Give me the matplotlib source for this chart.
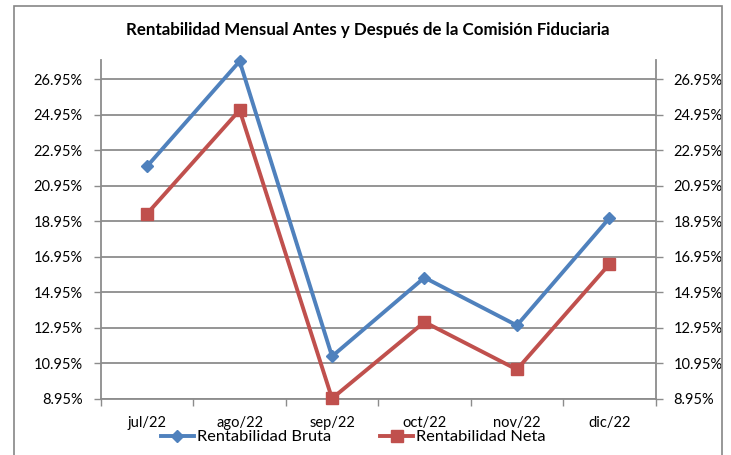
import matplotlib
matplotlib.use("Agg")
import matplotlib.pyplot as plt
from matplotlib.patches import Rectangle
from matplotlib.ticker import FixedLocator, FuncFormatter

categories = ["jul/22", "ago/22", "sep/22", "oct/22", "nov/22", "dic/22"]
bruta = [22.05, 27.95, 11.35, 15.78, 13.09, 19.12]
neta = [19.38, 25.20, 8.98, 13.28, 10.61, 16.53]
yticks = [8.95, 10.95, 12.95, 14.95, 16.95, 18.95, 20.95, 22.95, 24.95, 26.95]

plt.rcParams['font.family'] = ['Lato', 'DejaVu Sans']

W, H = 731, 455
fig = plt.figure(figsize=(W/100, H/100), dpi=100)
fig.patch.set_facecolor('white')

# chart border
fig.patches.append(Rectangle((14/W, -0.02), (722-14)/W, 1 - 6/H + 0.02,
                             transform=fig.transFigure, fill=False,
                             edgecolor='#868686', linewidth=1.2))

left, right, top, bottom = 101, 655.5, 60, 399
ax = fig.add_axes([left/W, 1-bottom/H, (right-left)/W, (bottom-top)/H])
x = list(range(len(categories)))
grid_c = '#8c8c8c'
for yv in yticks:
    ax.axhline(yv, color=grid_c, linewidth=1.3, zorder=1)

ax.plot(x, bruta, color='#4F81BD', linewidth=2.8, marker='D', markersize=6.5,
        label='Rentabilidad Bruta', zorder=3, clip_on=False)
ax.plot(x, neta, color='#C0504D', linewidth=2.8, marker='s', markersize=8,
        label='Rentabilidad Neta', zorder=3, clip_on=False)

ax.set_xlim(-0.5, len(categories)-0.5)
ax.set_ylim(8.95, 28.02)
ax.set_yticks(yticks)
fmt = FuncFormatter(lambda v, p: f"{v:.2f}%")
ax.yaxis.set_major_formatter(fmt)
ax.set_xticks(x)
ax.set_xticklabels(categories)
ax.xaxis.set_minor_locator(FixedLocator([i - 0.5 for i in range(len(categories)+1)]))
ax.tick_params(axis='x', which='major', length=0, pad=12, labelsize=10.5, colors='black')
ax.tick_params(axis='x', which='minor', length=5, width=1, color=grid_c, direction='out')
ax.tick_params(axis='y', length=5, width=1, color=grid_c, pad=8, labelsize=10.5)

for s in ['top', 'right']:
    ax.spines[s].set_visible(False)
for s in ['left', 'bottom']:
    ax.spines[s].set_color(grid_c)
    ax.spines[s].set_linewidth(1.3)

ax2 = ax.twinx()
ax2.set_ylim(ax.get_ylim())
ax2.set_yticks(yticks)
ax2.yaxis.set_major_formatter(fmt)
ax2.tick_params(axis='y', length=5, width=1, color=grid_c, pad=8, labelsize=10.5)
for s in ['top', 'left', 'bottom']:
    ax2.spines[s].set_visible(False)
ax2.spines['right'].set_color(grid_c)
ax2.spines['right'].set_linewidth(1.3)

fig.text(368/W, 1-30/H, "Rentabilidad Mensual Antes y Después de la Comisión Fiduciaria",
         ha='center', va='center', fontsize=12.2, fontweight='bold')

h, l = ax.get_legend_handles_labels()
fig.legend(h, l, loc='center', bbox_to_anchor=(353.5/W, 1-437/H), ncol=2, frameon=False,
           fontsize=11.8, handlelength=2.0, handletextpad=0.2, columnspacing=3.0,
           borderpad=0, borderaxespad=0)

fig.savefig('out.png', dpi=100)
